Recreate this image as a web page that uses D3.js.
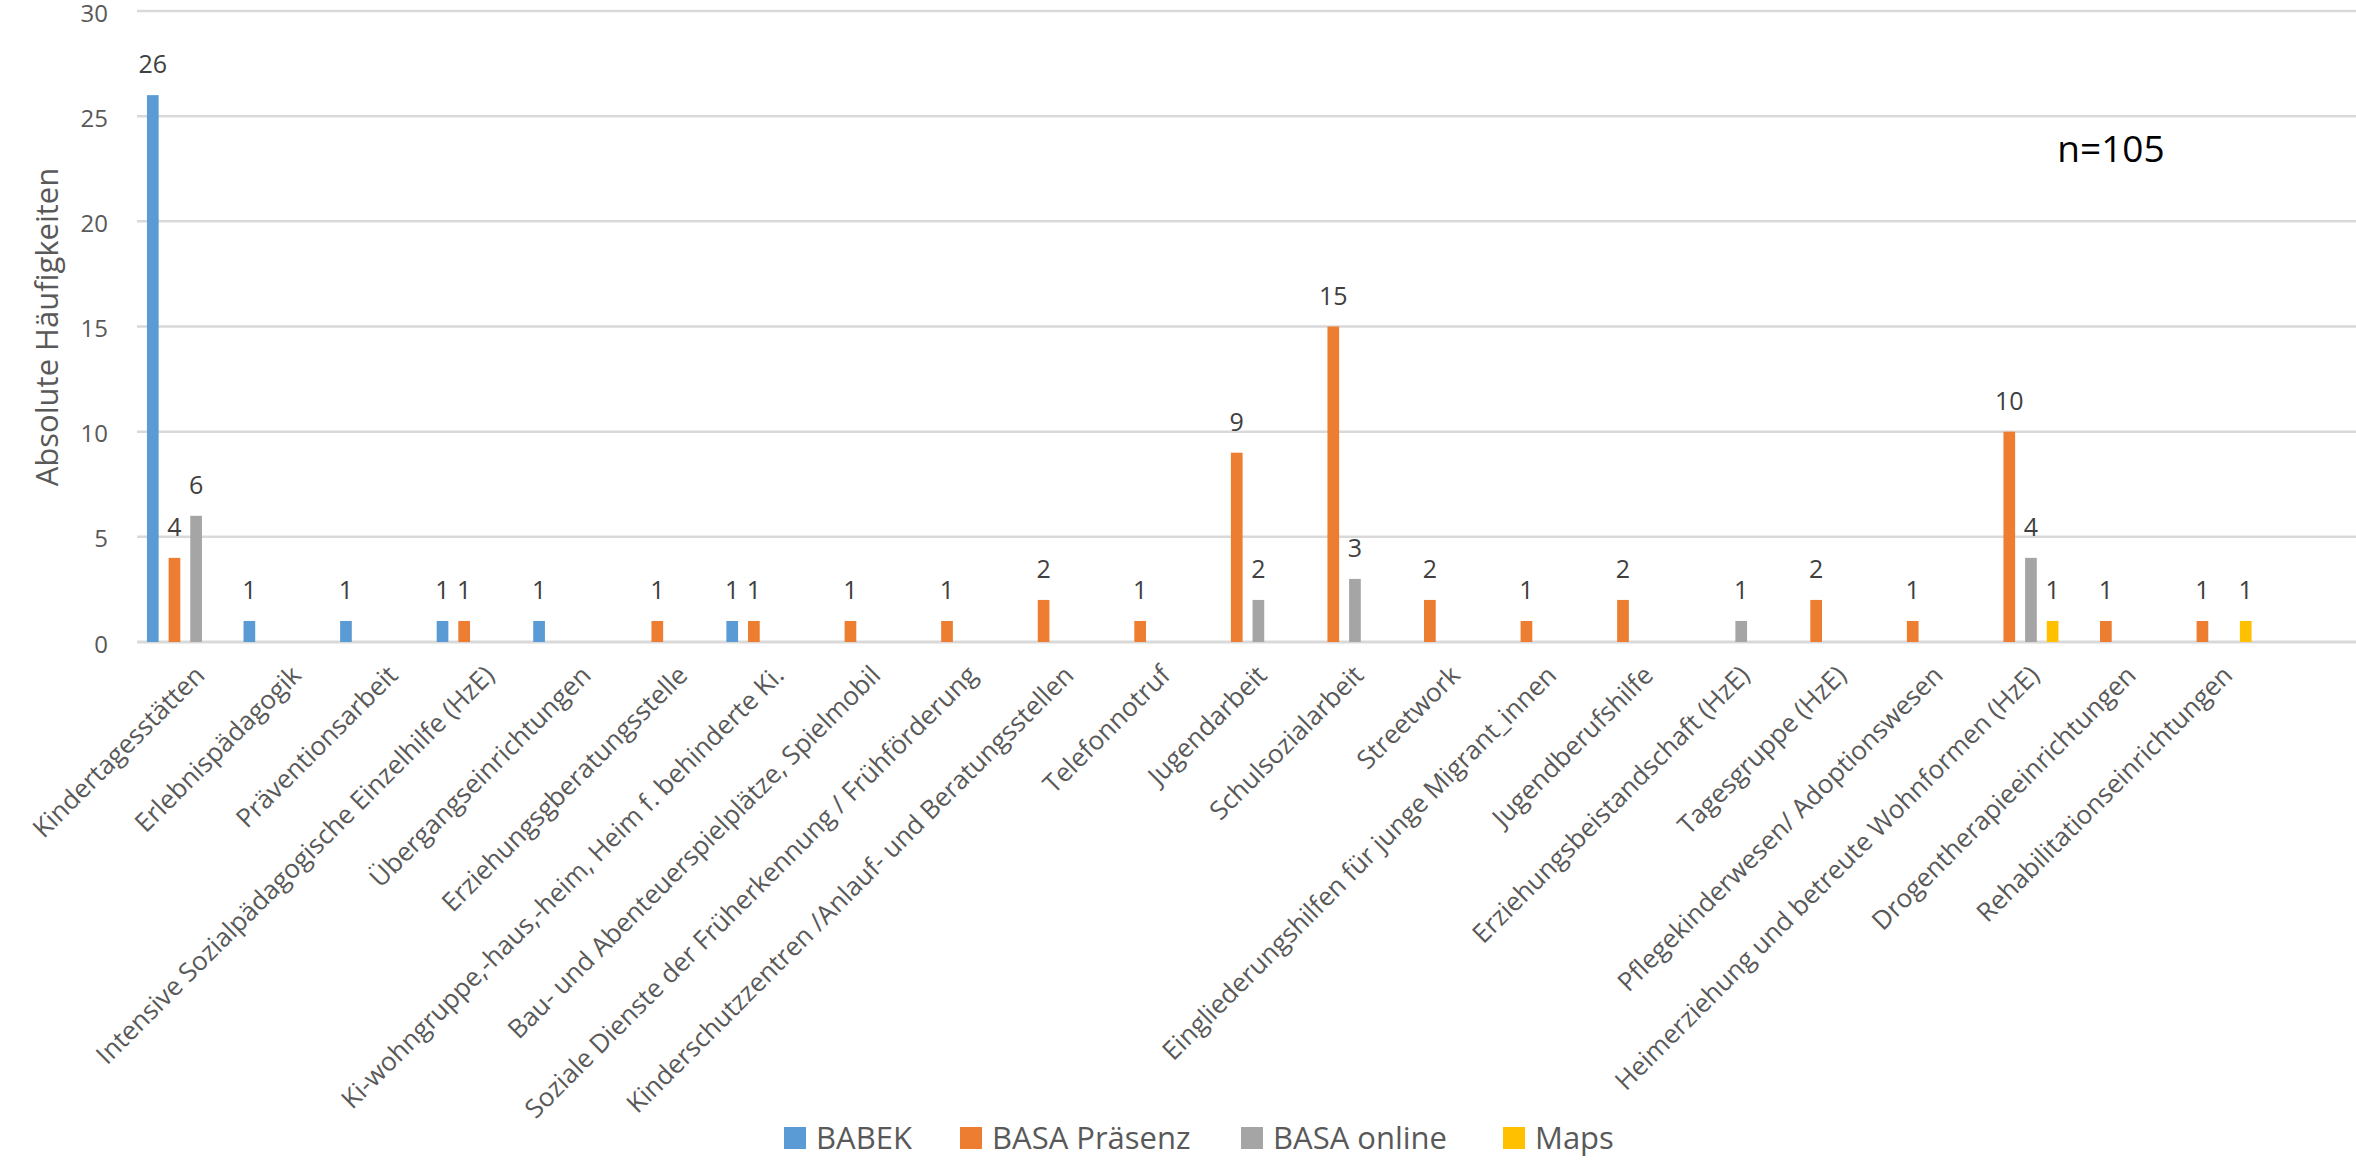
<!DOCTYPE html>
<html>
<head>
<meta charset="utf-8">
<script src="https://cdn.jsdelivr.net/npm/d3@7"></script>
<style>
  body { margin: 0; background: #fff; }
  svg { display: block; font-family: "Open Sans", sans-serif; }
</style>
</head>
<body>
<div id="chart"></div>
<script>
// Categories (x axis)
const categories = [
    "Kindertagesstätten",
    "Erlebnispädagogik",
    "Präventionsarbeit",
    "Intensive Sozialpädagogische Einzelhilfe (HzE)",
    "Übergangseinrichtungen",
    "Erziehungsgberatungsstelle",
    "Ki-wohngruppe,-haus,-heim, Heim f. behinderte Ki.",
    "Bau- und Abenteuerspielplätze, Spielmobil",
    "Soziale Dienste der Früherkennung / Frühförderung",
    "Kinderschutzzentren /Anlauf- und Beratungsstellen",
    "Telefonnotruf",
    "Jugendarbeit",
    "Schulsozialarbeit",
    "Streetwork",
    "Eingliederungshilfen für junge Migrant_innen",
    "Jugendberufshilfe",
    "Erziehungsbeistandschaft (HzE)",
    "Tagesgruppe (HzE)",
    "Pflegekinderwesen/ Adoptionswesen",
    "Heimerziehung und betreute Wohnformen (HzE)",
    "Drogentherapieeinrichtungen",
    "Rehabilitationseinrichtungen"
];

// Series values (null = empty cell)
const babek = [26, 1, 1, 1, 1, null, 1, null, null, null, null, null, null, null, null, null, null, null, null, null, null, null];
const basaPraesenz = [4, null, null, 1, null, 1, 1, 1, 1, 2, 1, 9, 15, 2, 1, 2, null, 2, 1, 10, 1, 1];
const basaOnline = [6, null, null, null, null, null, null, null, null, null, null, 2, 3, null, null, null, 1, null, null, 4, null, null];
const maps = [null, null, null, null, null, null, null, null, null, null, null, null, null, null, null, null, null, null, null, 1, null, 1];

const seriesNames = ["BABEK", "BASA Präsenz", "BASA online", "Maps"];
const seriesColors = ["#5B9BD5", "#ED7D31", "#A5A5A5", "#FFC000"];
const seriesValues = [babek, basaPraesenz, basaOnline, maps];

const yTicks = [0, 5, 10, 15, 20, 25, 30];

const W = 2356, H = 1163;
const plotLeft = 137, step = 96.57, plotTop = 11, plotBottom = 642;

const svg = d3.select("#chart").append("svg")
    .attr("width", W)
    .attr("height", H);

// Scales
const x0 = d3.scaleBand()
    .domain(categories)
    .range([plotLeft, plotLeft + step * categories.length])
    .paddingInner(0)
    .paddingOuter(0);

const x1 = d3.scaleBand()
    .domain(seriesNames)
    .range([0, x0.bandwidth()])
    .padding(0.46);

const y = d3.scaleLinear()
    .domain([0, 30])
    .range([plotBottom, plotTop]);

// Gridlines
svg.append("g")
    .selectAll("line")
    .data(yTicks)
    .enter()
    .append("line")
    .attr("x1", plotLeft)
    .attr("x2", W)
    .attr("y1", d => y(d))
    .attr("y2", d => y(d))
    .attr("stroke", "#D9D9D9")
    .attr("stroke-width", d => d === 0 ? 3 : 2.5);

// Y axis labels
const yAxis = svg.append("g")
    .attr("transform", `translate(${plotLeft}, 0)`)
    .call(d3.axisLeft(y).tickValues(yTicks).tickSize(0).tickPadding(29));
yAxis.select(".domain").remove();
yAxis.selectAll("text")
    .attr("dy", "0.42em")
    .style("font-size", "24px")
    .style("font-family", "Open Sans, sans-serif")
    .attr("fill", "#595959");

// Y axis title
svg.append("text")
    .attr("transform", `translate(58, 327) rotate(-90)`)
    .attr("text-anchor", "middle")
    .style("font-size", "31px")
    .attr("fill", "#595959")
    .text("Absolute Häufigkeiten");

// Flattened bar data
const bars = [];
categories.forEach((c, i) => {
    seriesNames.forEach((s, j) => {
        const v = seriesValues[j][i];
        if (v !== null) bars.push({ cat: c, series: s, value: v, color: seriesColors[j] });
    });
});

// Bars
svg.append("g")
    .selectAll("rect")
    .data(bars)
    .enter()
    .append("rect")
    .attr("x", d => x0(d.cat) + x1(d.series))
    .attr("y", d => y(d.value))
    .attr("width", x1.bandwidth())
    .attr("height", d => y(0) - y(d.value))
    .attr("fill", d => d.color);

// Value labels
svg.append("g")
    .selectAll("text")
    .data(bars)
    .enter()
    .append("text")
    .attr("x", d => x0(d.cat) + x1(d.series) + x1.bandwidth() / 2)
    .attr("y", d => y(d.value) - 22)
    .attr("text-anchor", "middle")
    .style("font-size", "25px")
    .attr("fill", "#404040")
    .text(d => d.value);

// Category labels (rotated)
svg.append("g")
    .selectAll("text")
    .data(categories)
    .enter()
    .append("text")
    .attr("transform", d => `translate(${x0(d) + x0.bandwidth() / 2 + 8}, ${plotBottom + 22}) rotate(-45)`)
    .attr("text-anchor", "end")
    .attr("dy", "0.7em")
    .style("font-size", "26px")
    .attr("fill", "#595959")
    .text(d => d);

// n annotation
svg.append("text")
    .attr("x", 2111)
    .attr("y", 162)
    .attr("text-anchor", "middle")
    .style("font-size", "37px")
    .attr("fill", "#000")
    .text("n=105");

// Legend
const legendX = [784, 960, 1241, 1503];
const legend = svg.append("g");
seriesNames.forEach((s, j) => {
    legend.append("rect")
        .attr("x", legendX[j])
        .attr("y", 1127)
        .attr("width", 22)
        .attr("height", 22)
        .attr("fill", seriesColors[j]);
    legend.append("text")
        .attr("x", legendX[j] + 32)
        .attr("y", 1149)
        .style("font-size", "31px")
        .attr("fill", "#595959")
        .text(s);
});
</script>
</body>
</html>
